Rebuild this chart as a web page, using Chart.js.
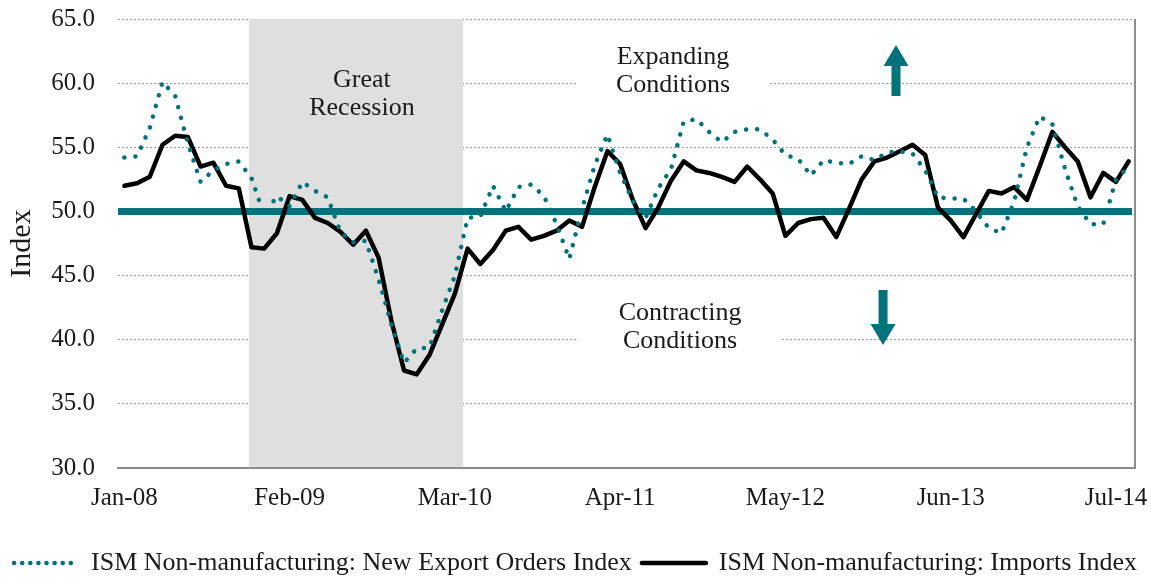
<!DOCTYPE html>
<html>
<head>
<meta charset="utf-8">
<script src="https://cdn.jsdelivr.net/npm/chart.js@4/dist/chart.umd.min.js"></script>
<style>
  html, body { margin: 0; padding: 0; background: #fff; }
  canvas { display: block; }
</style>
</head>
<body>
<canvas id="chart" width="1151" height="578"></canvas>
<script>
const months = [
  'Jan-08','Feb-08','Mar-08','Apr-08','May-08','Jun-08','Jul-08','Aug-08','Sep-08','Oct-08','Nov-08','Dec-08',
  'Jan-09','Feb-09','Mar-09','Apr-09','May-09','Jun-09','Jul-09','Aug-09','Sep-09','Oct-09','Nov-09','Dec-09',
  'Jan-10','Feb-10','Mar-10','Apr-10','May-10','Jun-10','Jul-10','Aug-10','Sep-10','Oct-10','Nov-10','Dec-10',
  'Jan-11','Feb-11','Mar-11','Apr-11','May-11','Jun-11','Jul-11','Aug-11','Sep-11','Oct-11','Nov-11','Dec-11',
  'Jan-12','Feb-12','Mar-12','Apr-12','May-12','Jun-12','Jul-12','Aug-12','Sep-12','Oct-12','Nov-12','Dec-12',
  'Jan-13','Feb-13','Mar-13','Apr-13','May-13','Jun-13','Jul-13','Aug-13','Sep-13','Oct-13','Nov-13','Dec-13',
  'Jan-14','Feb-14','Mar-14','Apr-14','May-14','Jun-14','Jul-14','Aug-14'
];
const xTickLabels = ['Jan-08', 'Feb-09', 'Mar-10', 'Apr-11', 'May-12', 'Jun-13', 'Jul-14'];

const exportOrders = [
  54.2, 54.3, 56.5, 60.1, 59.0, 55.3, 52.3, 53.2, 53.7, 53.9, 52.6, 49.7,
  51.2, 50.4, 52.3, 51.6, 51.1, 48.4, 47.6, 47.7, 44.7, 41.2, 38.2, 39.3,
  39.4, 42.3, 45.0, 49.5, 49.6, 52.0, 50.0, 51.9, 52.1, 51.2, 49.0, 46.3,
  50.2, 53.6, 56.0, 53.0, 50.8, 49.5, 51.8, 53.3, 57.0, 57.2, 56.2, 55.4,
  56.2, 56.4, 56.4, 55.6, 54.4, 54.1, 52.8, 54.0, 53.8, 53.7, 54.3, 54.0,
  54.6, 54.7, 54.5, 53.2, 51.1, 51.0, 51.0, 50.0, 48.7, 48.3, 50.8, 55.0,
  57.4, 56.8, 53.3, 50.4, 49.0, 49.0, 52.5, 53.5
];
const imports = [
  52.0, 52.2, 52.7, 55.2, 55.9, 55.8, 53.5, 53.8, 52.0, 51.8, 47.2, 47.1,
  48.3, 51.2, 50.9, 49.5, 49.1, 48.4, 47.4, 48.5, 46.4, 41.5, 37.6, 37.3,
  38.8, 41.2, 43.6, 47.1, 45.9, 47.0, 48.5, 48.8, 47.8, 48.1, 48.5, 49.3,
  48.8, 51.9, 54.7, 53.7, 50.9, 48.7, 50.3, 52.4, 53.9, 53.2, 53.0, 52.7,
  52.3, 53.5, 52.5, 51.4, 48.1, 49.1, 49.4, 49.5, 48.0, 50.2, 52.5, 53.9,
  54.2, 54.7, 55.2, 54.4, 50.3, 49.3, 48.0, 49.8, 51.6, 51.4, 51.9, 50.9,
  53.5, 56.2, 55.0, 53.9, 51.1, 53.0, 52.3, 53.9
];

// reference line and notes, in category index / index value units
const neutralLevel = 50;
const recessionSpan = [9.8, 26.64];
const recessionNote = { lines: ['Great', 'Recession'], at: [18.69, 59.14] };
const expandNote = { lines: ['Expanding', 'Conditions'], at: [43.16, 60.94] };
const contractNote = { lines: ['Contracting', 'Conditions'], at: [43.71, 40.94] };
const upArrow = { at: 60.7, from: 59.0, to: 62.97 };
const downArrow = { at: 59.68, from: 43.88, to: 39.59 };

const teal = '#00727b';
const ink = '#1a1a1a';
const serif = "'Liberation Serif', 'Times New Roman', serif";

Chart.defaults.font.family = serif;
Chart.defaults.color = ink;

function drawNote(ctx, x, y, note, box) {
  const px = x.getPixelForValue(note.at[0]);
  const py = y.getPixelForValue(note.at[1]);
  ctx.font = '26px ' + serif;
  const w = Math.max(...note.lines.map(l => ctx.measureText(l).width));
  if (box) {
    ctx.fillStyle = '#fff';
    ctx.fillRect(px - w / 2 - 40, py - 30, w + 80, 60);
  }
  ctx.fillStyle = ink;
  ctx.textAlign = 'center';
  ctx.textBaseline = 'middle';
  ctx.fillText(note.lines[0], px, py - 14);
  ctx.fillText(note.lines[1], px, py + 14);
}

function drawArrow(ctx, x, y, arrow) {
  const px = x.getPixelForValue(arrow.at);
  const y0 = y.getPixelForValue(arrow.from);
  const y1 = y.getPixelForValue(arrow.to);
  const dir = y1 < y0 ? -1 : 1;
  const head = 21, shaft = 4.5, half = 12.5;
  const yh = y1 - dir * head;
  ctx.fillStyle = teal;
  ctx.beginPath();
  ctx.moveTo(px - shaft, y0);
  ctx.lineTo(px - shaft, yh);
  ctx.lineTo(px - half, yh);
  ctx.lineTo(px, y1);
  ctx.lineTo(px + half, yh);
  ctx.lineTo(px + shaft, yh);
  ctx.lineTo(px + shaft, y0);
  ctx.closePath();
  ctx.fill();
}

const decorations = {
  id: 'decorations',
  beforeDatasetsDraw(chart) {
    const { ctx, chartArea: a, scales: { x, y } } = chart;
    ctx.save();
    const r0 = x.getPixelForValue(recessionSpan[0]);
    const r1 = x.getPixelForValue(recessionSpan[1]);
    ctx.fillStyle = '#dfdfdf';
    ctx.fillRect(r0, a.top, r1 - r0, a.bottom - a.top - 1);

    drawNote(ctx, x, y, recessionNote, false);
    drawNote(ctx, x, y, expandNote, true);
    drawNote(ctx, x, y, contractNote, true);
    drawArrow(ctx, x, y, upArrow);
    drawArrow(ctx, x, y, downArrow);

    // right border of the plot
    ctx.strokeStyle = '#8c8c8c';
    ctx.lineWidth = 2;
    ctx.beginPath();
    ctx.moveTo(a.right, a.top);
    ctx.lineTo(a.right, a.bottom);
    ctx.stroke();

    // 50 = neutral level
    const yn = y.getPixelForValue(neutralLevel);
    ctx.strokeStyle = teal;
    ctx.lineWidth = 7;
    ctx.beginPath();
    ctx.moveTo(a.left, yn);
    ctx.lineTo(a.right - 3, yn);
    ctx.stroke();
    ctx.restore();
  }
};

new Chart(document.getElementById('chart'), {
  type: 'line',
  data: {
    labels: months,
    datasets: [
      {
        label: 'ISM Non-manufacturing: New Export Orders Index',
        data: exportOrders,
        borderColor: teal,
        backgroundColor: teal,
        borderWidth: 4.5,
        borderDash: [0.1, 11],
        borderCapStyle: 'round',
        pointRadius: 0,
        tension: 0
      },
      {
        label: 'ISM Non-manufacturing: Imports Index',
        data: imports,
        borderColor: '#000',
        backgroundColor: '#000',
        borderWidth: 4.5,
        borderJoinStyle: 'round',
        borderCapStyle: 'round',
        pointRadius: 0,
        tension: 0
      }
    ]
  },
  options: {
    responsive: false,
    animation: false,
    layout: { padding: { left: 0, right: 0, top: 0, bottom: -8 } },
    plugins: {
      tooltip: { enabled: false },
      legend: {
        position: 'bottom',
        labels: {
          usePointStyle: true,
          pointStyleWidth: 64,
          padding: 10,
          font: { size: 26 },
          color: ink,
          generateLabels: chart => chart.data.datasets.map((ds, i) => ({
            text: ds.label,
            datasetIndex: i,
            pointStyle: 'line',
            strokeStyle: ds.borderColor,
            fillStyle: ds.borderColor,
            lineWidth: ds.borderWidth,
            lineDash: ds.borderDash ? [0.1, 8] : [],
            lineCap: 'round',
            fontColor: ink,
            hidden: false
          }))
        }
      }
    },
    scales: {
      x: {
        offset: true,
        grid: { display: false, drawTicks: false },
        border: { display: true, color: '#8c8c8c', width: 2 },
        afterFit: (s) => {
          s.height = 72;
          s.paddingLeft = 0;
          s.paddingRight = 16;
        },
        ticks: {
          autoSkip: false,
          maxRotation: 0,
          padding: 15,
          font: { size: 25 },
          color: ink,
          callback: function (v) {
            const lab = this.getLabelForValue(v);
            return xTickLabels.includes(lab) ? lab : null;
          }
        }
      },
      y: {
        min: 30,
        max: 65,
        grid: { color: '#9a9a9a', lineWidth: 1, drawTicks: false },
        border: { display: false, dash: [2, 2] },
        afterFit: (s) => {
          s.width = 118;
          s.paddingTop = 19;
          s.paddingBottom = 0;
        },
        title: {
          display: true,
          text: 'Index',
          font: { size: 30 },
          color: ink,
          padding: { top: 4, bottom: 11 }
        },
        ticks: {
          stepSize: 5,
          padding: 23,
          font: { size: 25 },
          color: ink,
          callback: v => v.toFixed(1)
        }
      }
    }
  },
  plugins: [decorations]
});
</script>
</body>
</html>
